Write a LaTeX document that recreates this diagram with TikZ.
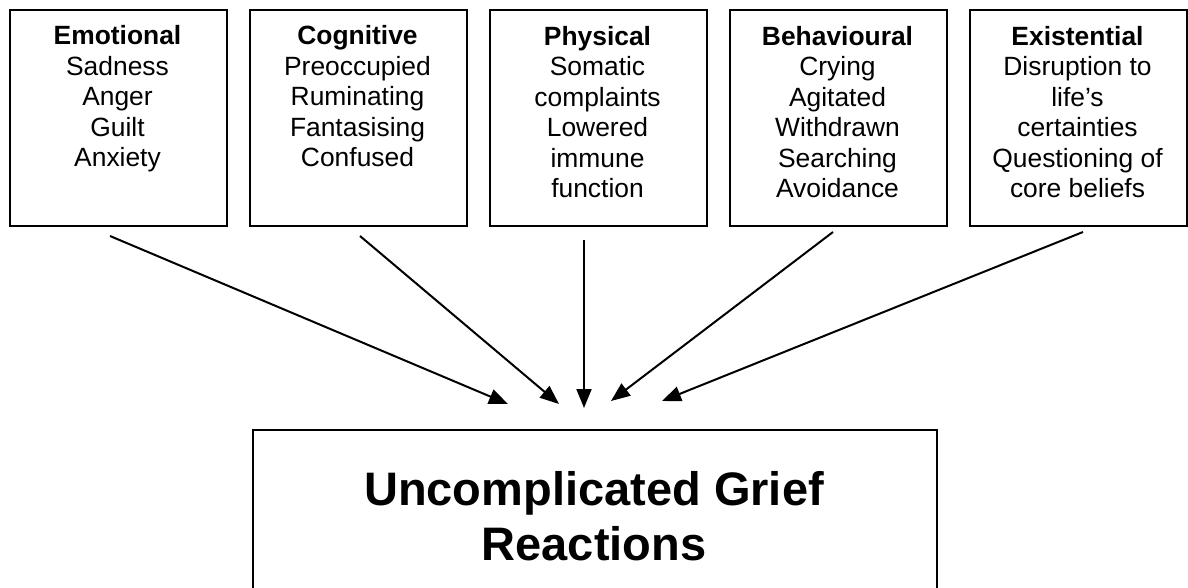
\documentclass[tikz,border=0pt]{standalone}
\usepackage{fontspec}
\setmainfont{Liberation Sans}
\usetikzlibrary{arrows.meta}
\begin{document}
\begin{tikzpicture}[x=1pt,y=-1pt,
  catbox/.style={draw, line width=2pt, minimum width=217pt, minimum height=216pt, inner sep=0pt, anchor=north west},
  cattext/.style={anchor=base, align=center, inner sep=0pt, font=\fontsize{26.4}{30.5}\selectfont},
  arr/.style={line width=2pt, -{Triangle[length=19pt,width=15pt]}},
]
\useasboundingbox (0,0) rectangle (1188,588);

% category boxes
\node[catbox] (emo) at (9,9) {};
\node[catbox] (cog) at (249,9) {};
\node[catbox] (phy) at (489,9) {};
\node[catbox] (beh) at (729,9) {};
\node[catbox] (exi) at (969,9) {};

% texts (anchor base = baseline of the last line)
\node[cattext] (emoT) at (117.5,167) {\textbf{Emotional}\\Sadness\\Anger\\Guilt\\Anxiety};
\node[cattext] (cogT) at (357.5,167) {\textbf{Cognitive}\\Preoccupied\\Ruminating\\Fantasising\\Confused};
\node[cattext] (phyT) at (597.5,197.5) {\textbf{Physical}\\Somatic\\complaints\\Lowered\\immune\\function};
\node[cattext] (behT) at (837.5,197.5) {\textbf{Behavioural}\\Crying\\Agitated\\Withdrawn\\Searching\\Avoidance};
\node[cattext] (exiT) at (1077.5,197.5) {\textbf{Existential}\\Disruption to\\life’s\\certainties\\Questioning of\\core beliefs};

% result box
\node[draw, line width=2pt, minimum width=684pt, minimum height=190pt, inner sep=0pt, anchor=north west] (res) at (252,429) {};
\node[anchor=base, align=center, inner sep=0pt, font=\fontsize{47}{55}\selectfont\bfseries] (resT) at (594,560) {Uncomplicated Grief\\Reactions};

% arrow ends
\coordinate (a1s) at (110,236);  \coordinate (a1e) at (508,404);
\coordinate (a2s) at (360,236);  \coordinate (a2e) at (559,404);
\coordinate (a3s) at (584,240);  \coordinate (a3e) at (584,408);
\coordinate (a4s) at (833,232);  \coordinate (a4e) at (611,401);
\coordinate (a5s) at (1083,232); \coordinate (a5e) at (662,401);

\draw[arr] (a1s) -- (a1e);
\draw[arr] (a2s) -- (a2e);
\draw[arr] (a3s) -- (a3e);
\draw[arr] (a4s) -- (a4e);
\draw[arr] (a5s) -- (a5e);
\end{tikzpicture}
\end{document}
